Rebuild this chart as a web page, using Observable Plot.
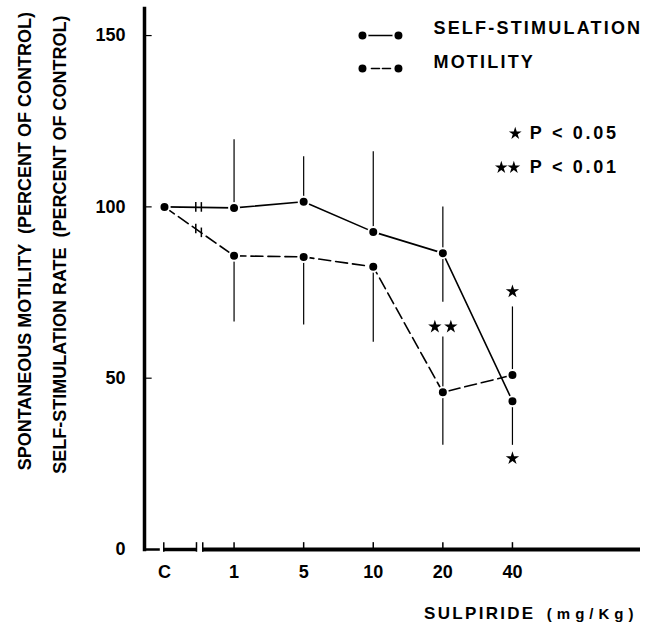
<!DOCTYPE html>
<html>
<head>
<meta charset="utf-8">
<script src="https://cdn.jsdelivr.net/npm/d3@7"></script>
<script src="https://cdn.jsdelivr.net/npm/@observablehq/plot@0.6"></script>
<style>
  html, body { margin: 0; padding: 0; background: #fff; }
  #chart svg { display: block; }
</style>
</head>
<body>
<div id="chart"></div>
<script>
// ---- data ----
const doses = ["C", "1", "5", "10", "20", "40"];
const selfStim = [100, 99.7, 101.5, 92.7, 86.5, 43.3];
const motility = [100, 85.7, 85.4, 82.5, 45.9, 50.9];
// error-bar ends (null = not drawn on that side)
const selfStimErrHi = [null, 119.6, 114.6, 116.1, 100, null];
const selfStimErrLo = [null, null, null, null, 72.2, 30.4];
const motilityErrHi = [null, null, null, null, 62, 70.8];
const motilityErrLo = [null, 66.4, 65.5, 60.5, 30.4, null];
// significance markers
const sigDose = [4, 5, 5];
const sigValue = [65, 75.3, 26.6];
const sigCount = [2, 1, 1];
const yTicks = [0, 50, 100, 150];
const seriesNames = ["SELF-STIMULATION", "MOTILITY"];
const sigLegend = ["P < 0.05", "P < 0.01"];
const yTitles = ["SPONTANEOUS MOTILITY  (PERCENT OF CONTROL)", "SELF-STIMULATION RATE  (PERCENT OF CONTROL)"];

const xDomain = [-0.287, 6.84];
const yDomain = [0, 157.9];
const font = "Liberation Sans, Arial, Helvetica, sans-serif";

const idx = doses.map((d, i) => i);
const ssRows = idx.map(i => ({i, v: selfStim[i]}));
const moRows = idx.map(i => ({i, v: motility[i]}));
const errRows = (vals, hi, lo) => idx
  .filter(i => hi[i] != null || lo[i] != null)
  .map(i => ({i, y1: hi[i] ?? vals[i], y2: lo[i] ?? vals[i]}));

// axis break positions between C and 1
const breaks = [0.45, 0.53];
const lerp = (arr, t) => arr[0] + (arr[1] - arr[0]) * t;
const breakRows = [];
for (const b of breaks) {
  breakRows.push({x: b, v: lerp(selfStim, b)});
  breakRows.push({x: b, v: lerp(motility, b)});
}

const sigRows = [];
sigDose.forEach((d, k) => {
  if (sigCount[k] === 1) sigRows.push({x: d, v: sigValue[k], dx: 0});
  else { sigRows.push({x: d, v: sigValue[k], dx: -8}); sigRows.push({x: d, v: sigValue[k], dx: 8}); }
});

// legend placement (data coordinates)
const legX = [2.845, 3.362], legTextX = 3.865;
const legY = [150.0, 140.4], legTextY = [152.0, 142.3];
const sigLegY = [121.4, 111.5];

const chart = Plot.plot({
  width: 650,
  height: 631,
  marginLeft: 144,
  marginRight: 10,
  marginTop: 8,
  marginBottom: 82,
  x: {domain: xDomain, axis: null},
  y: {domain: yDomain, axis: null},
  style: {fontFamily: font, background: "#fff", color: "#000"},
  marks: [
    // y axis line, foot and small ticks
    Plot.frame({anchor: "left", stroke: "#000", strokeWidth: 3.5}),
    Plot.ruleY([0], {x1: xDomain[0], x2: -0.06, stroke: "#000", strokeWidth: 2.5}),
    Plot.ruleY(yTicks.slice(1), {x1: xDomain[0], x2: xDomain[0] + 0.11, stroke: "#000", strokeWidth: 1.2}),
    // x axis line with break
    Plot.ruleY([0], {x1: -0.01, x2: 0.46, stroke: "#000", strokeWidth: 3.5}),
    Plot.ruleY([0], {x1: 0.55, x2: xDomain[1], stroke: "#000", strokeWidth: 4}),
    Plot.ruleX([-0.01, 0.46, 0.55], {y1: -0.8, y2: 2, stroke: "#000", strokeWidth: 1.5}),
    Plot.ruleX(idx.slice(1), {y1: 0, y2: 2, stroke: "#000", strokeWidth: 1.5}),
    // error bars
    Plot.ruleX(errRows(selfStim, selfStimErrHi, selfStimErrLo), {x: "i", y1: "y1", y2: "y2", stroke: "#000", strokeWidth: 1.2}),
    Plot.ruleX(errRows(motility, motilityErrHi, motilityErrLo), {x: "i", y1: "y1", y2: "y2", stroke: "#000", strokeWidth: 1.2}),
    // series lines
    Plot.line(ssRows, {x: "i", y: "v", stroke: "#000", strokeWidth: 1.6}),
    Plot.line(moRows, {x: "i", y: "v", stroke: "#000", strokeWidth: 1.6, strokeDasharray: "12,5"}),
    // break marks on the lines
    Plot.ruleX(breakRows, {x: "x", y1: d => d.v - 1.4, y2: d => d.v + 1.4, stroke: "#000", strokeWidth: 1.5}),
    // points
    Plot.dot(ssRows, {x: "i", y: "v", r: 5, fill: "#000", stroke: "#fff", strokeWidth: 2}),
    Plot.dot(moRows, {x: "i", y: "v", r: 5, fill: "#000", stroke: "#fff", strokeWidth: 2}),
    // significance stars
    ...[-8, 0, 8].map(off => Plot.dot(sigRows.filter(d => d.dx === off), {x: "x", y: "v", dx: off, r: 4.2, symbol: "star", fill: "#000"})),
    // tick labels
    Plot.text(doses, {x: (d, i) => i, frameAnchor: "bottom", dy: 28, fontSize: 18, fontWeight: "bold"}),
    Plot.text(yTicks, {y: d => d, frameAnchor: "left", dx: -19, textAnchor: "end", fontSize: 18, fontWeight: "bold"}),
    // axis titles
    Plot.text([yTitles[0]], {y: () => 90, frameAnchor: "left", dx: -119, rotate: -90, textAnchor: "middle", fontSize: 18, fontWeight: "bold"}),
    Plot.text([yTitles[1]], {y: () => 89, frameAnchor: "left", dx: -84, rotate: -90, textAnchor: "middle", fontSize: 18, fontWeight: "bold"}),
    Plot.text(["(mg/Kg)"], {frameAnchor: "bottom-right", dx: -2, dy: 69, textAnchor: "end", fontSize: 15, fontWeight: "bold"}),
    Plot.text(["SULPIRIDE"], {frameAnchor: "bottom-right", dx: -105, dy: 69, textAnchor: "end", fontSize: 17, fontWeight: "bold"}),
    // legend
    Plot.line([{x: legX[0], y: legY[0]}, {x: legX[1], y: legY[0]}], {x: "x", y: "y", stroke: "#000", strokeWidth: 1.6}),
    Plot.line([{x: legX[0], y: legY[1]}, {x: legX[1], y: legY[1]}], {x: "x", y: "y", stroke: "#000", strokeWidth: 1.6, strokeDasharray: "0,9,8,3,8,9"}),
    Plot.dot([legX[0], legX[1]].flatMap(x => legY.map(y => ({x, y}))), {x: "x", y: "y", r: 5, fill: "#000", stroke: "#fff", strokeWidth: 2}),
    Plot.text(seriesNames, {x: legTextX, y: (d, i) => legTextY[i], textAnchor: "start", fontSize: 18, fontWeight: "bold"}),
    Plot.dot([{x: 5.04, y: sigLegY[0]}, {x: 4.84, y: sigLegY[1]}, {x: 5.02, y: sigLegY[1]}], {x: "x", y: "y", r: 4, symbol: "star", fill: "#000"}),
    Plot.text(sigLegend, {x: 5.25, y: (d, i) => sigLegY[i], textAnchor: "start", fontSize: 18, fontWeight: "bold"})
  ]
});
const spacing = t => {
  if (t === "SULPIRIDE") return 2.3;
  if (t === "(mg/Kg)") return 5;
  if (t.startsWith("P <")) return 2.7;
  if (t === "SELF-STIMULATION" || t === "MOTILITY") return 2.2;
  return 0;
};
d3.select(chart).selectAll("text").each(function() {
  d3.select(this).attr("letter-spacing", spacing(this.textContent) + "px");
});
document.getElementById("chart").append(chart);
</script>
</body>
</html>
